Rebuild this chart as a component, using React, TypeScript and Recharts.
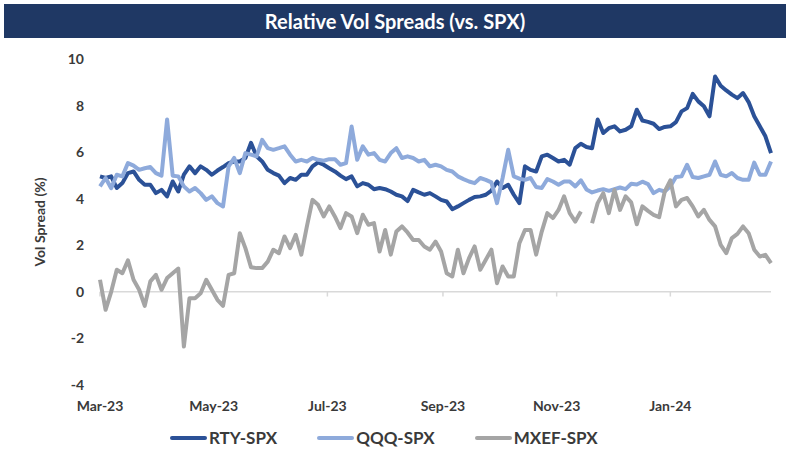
import { LineChart, Line, XAxis, YAxis, ReferenceLine } from 'recharts';

// values, one point every 3 days from 1 Mar 2023
const rty = [
  4.96, 4.89, 4.96, 4.46, 4.67, 5.1, 5.17, 4.81, 4.6, 4.6,
  4.24, 4.38, 4.1, 4.74, 4.31, 5.03, 5.39, 5.1, 5.39, 5.24,
  5.03, 5.21, 5.36, 5.53, 5.6, 5.6, 5.75, 6.4, 5.82, 5.6,
  5.24, 5.1, 4.99, 4.67, 4.89, 4.81, 5.03, 5.03, 5.39, 5.56,
  5.46, 5.31, 5.17, 4.99, 4.84, 4.96, 4.53, 4.67, 4.6, 4.41,
  4.46, 4.41, 4.31, 4.17, 4.1, 3.9, 4.38, 4.27, 4.17, 4.24,
  4.1, 3.95, 3.88, 3.55, 3.67, 3.81, 3.95, 4.07, 4.1, 4.17,
  4.35, 4.74, 4.46, 4.6, 4.17, 3.81, 5.39, 5.24, 5.17, 5.82,
  5.89, 5.75, 5.6, 5.67, 5.46, 6.17, 6.36, 6.22, 6.17, 7.4,
  6.82, 7.03, 7.11, 6.89, 6.96, 7.11, 7.82, 7.36, 7.3, 7.22,
  6.99, 7.08, 7.11, 7.29, 7.75, 7.89, 8.5, 8.18, 7.97, 7.54,
  9.25, 8.85, 8.65, 8.47, 8.32, 8.54, 8.15, 7.54, 7.11, 6.68,
  5.96,
];

const qqq = [
  4.53, 4.89, 4.45, 5.03, 4.96, 5.53, 5.42, 5.24, 5.31, 5.36,
  5.1, 4.99, 7.4, 4.99, 4.96, 4.53, 4.31, 4.46, 4.24, 3.95,
  4.1, 3.81, 3.67, 5.39, 5.75, 5.1, 5.96, 5.89, 5.82, 6.53,
  6.17, 6.1, 6.17, 6.25, 5.89, 5.6, 5.67, 5.6, 5.75, 5.67,
  5.63, 5.7, 5.7, 5.46, 5.53, 7.1, 5.67, 6.25, 5.89, 5.96,
  5.67, 5.6, 5.96, 6.17, 5.75, 5.82, 5.75, 5.6, 5.67, 5.39,
  5.46, 5.39, 5.24, 5.17, 4.96, 4.84, 4.74, 4.67, 4.89, 4.81,
  4.7, 3.81, 4.89, 6.1, 4.96, 4.86, 4.81, 4.89, 4.5, 4.46,
  4.84, 4.74, 4.6, 4.74, 4.74, 4.53, 4.79, 4.4, 4.27, 4.35,
  4.41, 4.34, 4.41, 4.48, 4.41, 4.64, 4.61, 4.73, 4.63, 4.24,
  4.38, 4.31, 4.53, 4.93, 4.96, 5.46, 4.93, 4.89, 4.96, 5.03,
  5.6, 5.03, 4.96, 5.1, 4.89, 4.81, 4.81, 5.55, 5.03, 5.03,
  5.6,
];

const mxef = [
  0.52, -0.77, 0.0, 0.95, 0.8, 1.35, 0.52, 0.09, -0.6, 0.45,
  0.73, 0.09, 0.59, 0.8, 1.0, -2.35, -0.27, -0.27, -0.06, 0.52,
  0.09, -0.34, -0.6, 0.73, 0.8, 2.52, 1.88, 1.06, 1.02, 1.02,
  1.3, 1.81, 1.66, 2.38, 1.88, 2.45, 1.6, 2.81, 3.95, 3.74,
  3.24, 3.67, 3.24, 2.74, 3.38, 3.24, 2.52, 3.31, 2.88, 2.95,
  1.73, 2.66, 1.6, 2.59, 2.81, 2.55, 2.23, 2.23, 1.95, 1.81,
  2.16, 1.73, 0.8, 0.66, 1.81, 0.8, 1.45, 1.95, 0.95, 1.38,
  1.81, 0.37, 1.09, 0.66, 0.66, 2.09, 2.66, 2.66, 1.6, 2.59,
  3.38, 3.17, 3.52, 4.1, 3.38, 3.02, 3.45, null, 2.95, 3.81,
  4.24, 3.38, 4.38, 3.52, 4.1, 3.84, 2.9, 3.67, 3.48, 3.31,
  3.21, 4.31, 4.79, 3.67, 3.95, 4.03, 3.67, 3.24, 3.52, 3.09,
  2.81, 2.02, 1.66, 2.31, 2.49, 2.81, 2.52, 1.81, 1.52, 1.59,
  1.23,
];

// x ticks: days since 1 Mar 2023
const tickDays = [0, 61, 122, 184, 245, 306];
const tickLabels = ['Mar-23', 'May-23', 'Jul-23', 'Sep-23', 'Nov-23', 'Jan-24'];
const yTicks = [-4, -2, 0, 2, 4, 6, 8, 10];

const series = [
  { key: 'rty', name: 'RTY-SPX', color: '#2B5197' },
  { key: 'qqq', name: 'QQQ-SPX', color: '#8EAADB' },
  { key: 'mxef', name: 'MXEF-SPX', color: '#A5A5A5' },
];

const data = rty.map((v, i) => ({
  day: i * 3,
  rty: v,
  qqq: qqq[i],
  mxef: mxef[i],
}));

const font = 'Lato, "Open Sans", sans-serif';
const tickStyle = { fontSize: 14, fontWeight: 700, fill: '#3a3a3a', fontFamily: font };

export default function App() {
  return (
    <div
      style={{
        position: 'absolute',
        left: 0,
        top: 0,
        width: 798,
        height: 450,
        background: '#fff',
        fontFamily: font,
      }}
    >
      <div
        style={{
          position: 'absolute',
          left: 4,
          top: 4,
          width: 782,
          height: 34,
          background: '#1F3864',
          color: '#fff',
          fontWeight: 700,
          fontSize: 20,
          lineHeight: '34px',
          textAlign: 'center',
        }}
      >
        Relative Vol Spreads (vs. SPX)
      </div>

      <div style={{ position: 'absolute', left: 0, top: 0 }}>
        <LineChart width={798} height={450} data={data} margin={{ top: 59, right: 27, bottom: 35, left: 0 }}>
          <XAxis
            dataKey="day"
            type="number"
            domain={[0, 360]}
            ticks={tickDays}
            tickFormatter={(d) => tickLabels[tickDays.indexOf(d)]}
            axisLine={false}
            tickLine={false}
            tickMargin={10}
            height={30}
            tick={tickStyle}
            interval={0}
          />
          <YAxis
            domain={[-4, 10]}
            ticks={yTicks}
            axisLine={false}
            tickLine={false}
            tickMargin={10}
            width={100}
            tick={tickStyle}
            interval={0}
            label={{
              value: 'Vol Spread (%)',
              angle: -90,
              position: 'insideLeft',
              offset: 40,
              style: { textAnchor: 'middle', fontSize: 14, fontWeight: 700, fill: '#3a3a3a', fontFamily: font },
            }}
          />
          <ReferenceLine y={0} stroke="#D9D9D9" strokeWidth={1.5} />
          {tickDays.map((d) => (
            <ReferenceLine
              key={d}
              segment={[{ x: d, y: 0 }, { x: d, y: -0.2 }]}
              stroke="#D9D9D9"
              strokeWidth={1.5}
            />
          ))}
          {series.map((s) => (
            <Line
              key={s.key}
              dataKey={s.key}
              name={s.name}
              type="linear"
              stroke={s.color}
              strokeWidth={4}
              strokeLinejoin="round"
              dot={false}
              activeDot={false}
              isAnimationActive={false}
            />
          ))}
        </LineChart>
      </div>

      <div
        style={{
          position: 'absolute',
          left: 170,
          top: 427,
          display: 'flex',
          gap: 40,
          alignItems: 'center',
          fontWeight: 700,
          fontSize: 17,
          color: '#3a3a3a',
        }}
      >
        {series.map((s) => (
          <div key={s.key} style={{ display: 'flex', alignItems: 'center' }}>
            <span style={{ display: 'inline-block', width: 37, height: 4, background: s.color, borderRadius: 2 }} />
            <span style={{ marginLeft: 2 }}>{s.name}</span>
          </div>
        ))}
      </div>
    </div>
  );
}
